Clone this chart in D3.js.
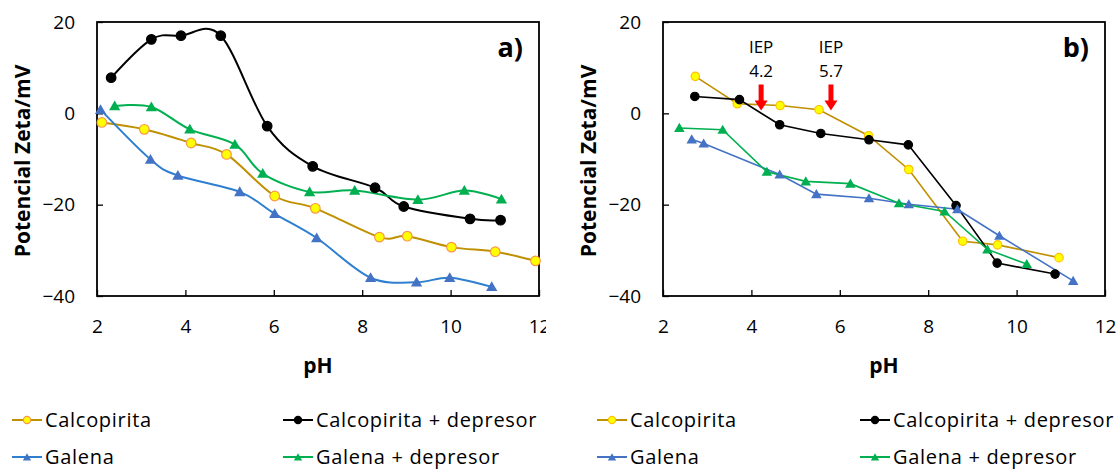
<!DOCTYPE html>
<html>
<head>
<meta charset="utf-8">
<script src="https://cdn.jsdelivr.net/npm/d3@7"></script>
<style>
  body { margin: 0; background: #fff; }
  svg { display: block; font-family: "Open Sans", sans-serif; }
</style>
</head>
<body>
<svg id="chart" width="1120" height="472"></svg>
<script>
// ---- data: [pH, zeta potential mV] ----
// panel a (smoothed lines)
const calcoA = [[2.11,-2.0],[3.07,-3.5],[4.13,-6.5],[4.93,-9.0],[6.02,-18.1],[6.94,-20.8],[8.39,-27.1],[9.02,-26.9],[10.02,-29.3],[11.01,-30.3],[11.92,-32.3]];
const calcoDepA = [[2.32,7.8],[3.23,16.2],[3.90,17.0],[4.80,17.0],[5.85,-2.8],[6.88,-11.6],[8.29,-16.3],[8.94,-20.4],[10.44,-23.1],[11.13,-23.4]];
const galenaA = [[2.08,0.8],[3.21,-10.1],[3.83,-13.6],[5.23,-17.2],[6.02,-22.0],[6.97,-27.3],[8.19,-36.0],[9.23,-37.0],[9.98,-36.0],[10.93,-38.0]];
const galenaDepA = [[2.40,1.6],[3.23,1.4],[4.10,-3.5],[5.12,-6.8],[5.75,-13.2],[6.81,-17.2],[7.83,-16.9],[9.26,-18.9],[10.31,-16.9],[11.15,-18.8]];

// panel b (straight lines)
const calcoB = [[2.73,8.1],[3.68,2.1],[4.65,1.7],[5.53,0.8],[6.65,-4.9],[7.56,-12.3],[8.78,-28.0],[9.57,-28.8],[10.96,-31.6]];
const calcoDepB = [[2.72,3.7],[3.73,3.0],[4.64,-2.5],[5.57,-4.4],[6.66,-5.8],[7.55,-6.9],[8.63,-20.2],[9.56,-32.8],[10.87,-35.2]];
const galenaB = [[2.65,-5.7],[2.92,-6.6],[4.64,-13.4],[5.47,-17.7],[6.66,-18.6],[7.56,-19.9],[8.66,-21.0],[9.61,-26.8],[11.28,-36.7]];
const galenaDepB = [[2.37,-3.2],[3.35,-3.6],[4.35,-12.8],[5.23,-14.9],[6.24,-15.4],[7.34,-19.7],[8.37,-21.5],[9.34,-29.8],[10.23,-33.0]];

const xTicks = [2, 4, 6, 8, 10, 12];
const yTicks = [20, 0, -20, -40];
const seriesNames = ["Calcopirita", "Calcopirita + depresor", "Galena", "Galena + depresor"];
const iepMarks = [{ label: "4.2", pH: 4.22 }, { label: "5.7", pH: 5.80 }];

const svg = d3.select("#chart");

// styles per series
const styleA = [
  { line: "#BF9000", fill: "#FFFF00", stroke: "#F7964A", shape: "circle" },
  { line: "#000000", fill: "#000000", stroke: "#000000", shape: "circle" },
  { line: "#2F7FD0", fill: "#4472C4", stroke: "#4472C4", shape: "triangle" },
  { line: "#00B050", fill: "#00B050", stroke: "#00B050", shape: "triangle" }
];
const styleB = [
  { line: "#BF9000", fill: "#FFFF00", stroke: "#FFC000", shape: "circle" },
  { line: "#000000", fill: "#000000", stroke: "#000000", shape: "circle" },
  { line: "#4472C4", fill: "#4472C4", stroke: "#4472C4", shape: "triangle" },
  { line: "#00B050", fill: "#00B050", stroke: "#00B050", shape: "triangle" }
];

function drawMarker(g, st, cx, cy, r, tri) {
  if (st.shape === "circle") {
    g.append("circle").attr("cx", cx).attr("cy", cy).attr("r", r)
      .attr("fill", st.fill).attr("stroke", st.stroke).attr("stroke-width", 1.2);
  } else {
    g.append("path")
      .attr("d", d3.symbol(d3.symbolTriangle, tri)())
      .attr("transform", `translate(${cx},${cy + 1})`)
      .attr("fill", st.fill);
  }
}

function panel(g, left, series, styles, smooth, label, sizes) {
  const x = d3.scaleLinear().domain([2, 12]).range([left, left + 442]);
  const y = d3.scaleLinear().domain([-40, 20]).range([296, 22]);

  // axes
  const xa = g.append("g").attr("transform", "translate(0,296)")
    .call(d3.axisBottom(x).tickValues(xTicks).tickSizeInner(-6).tickSizeOuter(0).tickPadding(24));
  const ya = g.append("g").attr("transform", `translate(${left},0)`)
    .call(d3.axisLeft(y).tickValues(yTicks).tickSizeInner(-6).tickSizeOuter(0).tickPadding(22));
  [xa, ya].forEach(a => {
    a.select(".domain").remove();
    a.selectAll("text").attr("font-size", 19).attr("fill", "#000").attr("font-family", "'Open Sans', sans-serif");
    a.selectAll("line").attr("stroke", "#000").attr("stroke-width", 1.3);
  });

  g.append("rect").attr("x", left).attr("y", 22).attr("width", 442).attr("height", 274)
    .attr("fill", "none").attr("stroke", "#000").attr("stroke-width", 1.8);

  const line = d3.line().x(d => x(d[0])).y(d => y(d[1]))
    .curve(smooth ? d3.curveCatmullRom.alpha(0) : d3.curveLinear);

  series.forEach((data, i) => {
    const st = styles[i];
    g.append("path").datum(data).attr("d", line).attr("fill", "none")
      .attr("stroke", st.line).attr("stroke-width", sizes.lw);
  });
  series.forEach((data, i) => {
    const st = styles[i];
    const mg = g.append("g");
    data.forEach(d => drawMarker(mg, st, x(d[0]), y(d[1]), sizes.r, sizes.tri));
  });

  // titles
  g.append("text").attr("x", left + 221).attr("y", 373).attr("text-anchor", "middle")
    .attr("font-size", 21).attr("font-weight", "bold").text("pH");
  g.append("text").attr("transform", `translate(${left - 74},161) rotate(-90)`)
    .attr("text-anchor", "middle").attr("dy", "0.35em")
    .attr("font-size", 21).attr("font-weight", "bold").text("Potencial Zeta/mV");
  g.append("text").attr("x", left + 426).attr("y", 57).attr("text-anchor", "end")
    .attr("font-size", 27).attr("font-weight", "bold").text(label);
  return { x, y };
}

// panel a, clipped on the right like the original export
const ga = svg.append("svg").attr("width", 546).attr("height", 400).attr("overflow", "hidden");
panel(ga, 97, [calcoA, calcoDepA, galenaA, galenaDepA], styleA, true, "a)", { lw: 2, r: 4.8, tri: 55 });

const gb = svg.append("g");
const sb = panel(gb, 663, [calcoB, calcoDepB, galenaB, galenaDepB], styleB, false, "b)", { lw: 1.6, r: 4.2, tri: 48 });

// IEP annotations
iepMarks.forEach(m => {
  const cx = sb.x(m.pH);
  const top = sb.y(6.3), tip = sb.y(0.6);
  gb.append("text").attr("x", cx).attr("y", sb.y(14.6)).attr("dy", "0.35em").attr("text-anchor", "middle")
    .attr("font-size", 17).text("IEP");
  gb.append("text").attr("x", cx).attr("y", sb.y(9.3)).attr("dy", "0.35em").attr("text-anchor", "middle")
    .attr("font-size", 17).text(m.label);
  gb.append("path")
    .attr("d", `M${cx - 2.5},${top} L${cx + 2.5},${top} L${cx + 2.5},${tip - 10} L${cx + 6.5},${tip - 10} L${cx},${tip} L${cx - 6.5},${tip - 10} L${cx - 2.5},${tip - 10} Z`)
    .attr("fill", "#FF0000");
});

// legend
const legCols = [12, 283, 597, 860];
const legRows = [420, 457];
const legStyles = [styleA, styleA, styleB, styleB];
const leg = svg.append("g");
[0, 1, 2, 3].forEach(c => {
  [0, 1].forEach(r => {
    const idx = r * 2 + (c % 2);
    const st = legStyles[c][idx];
    const lx = legCols[c], ly = legRows[r];
    leg.append("line").attr("x1", lx).attr("x2", lx + 30).attr("y1", ly).attr("y2", ly)
      .attr("stroke", st.line).attr("stroke-width", 2);
    drawMarker(leg, st, lx + 15, ly, 3.6, 30);
    leg.append("text").attr("x", lx + 33).attr("y", ly).attr("dy", "0.35em")
      .attr("font-size", 20).attr("letter-spacing", 0.7).text(seriesNames[idx]);
  });
});
</script>
</body>
</html>
